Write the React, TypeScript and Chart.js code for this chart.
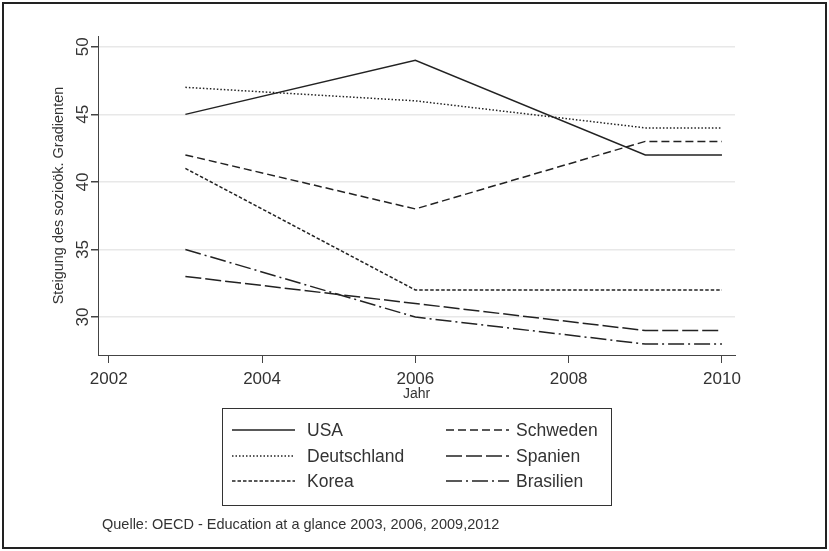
import React, { useEffect, useRef } from 'react';
import { Chart, registerables } from 'chart.js';

Chart.register(...registerables);

const years = [2003, 2006, 2009, 2010];
const seriesNames = ['USA', 'Deutschland', 'Korea', 'Schweden', 'Spanien', 'Brasilien'];
const usa = [45, 49, 42, 42];
const deutschland = [47, 46, 44, 44];
const korea = [41, 32, 32, 32];
const schweden = [42, 38, 43, 43];
const spanien = [33, 31, 29, 29];
const brasilien = [35, 30, 28, 28];
const xTicks = [2002, 2004, 2006, 2008, 2010];
const yTicks = [30, 35, 40, 45, 50];
const yTitle = 'Steigung des sozioök. Gradienten';
const xTitle = 'Jahr';
const sourceNote = 'Quelle: OECD - Education at a glance 2003, 2006, 2009,2012';

const seriesValues = [usa, deutschland, korea, schweden, spanien, brasilien];
const dashes: number[][] = [[], [1.5, 2], [3.5, 2], [8, 4], [16, 4], [16, 4, 2, 4]];

const FONT = '"Liberation Sans", Arial, Helvetica, sans-serif';
const INK = '#222';
const TEXT = '#333';

const decor = {
  id: 'decor',
  afterDraw(chart: any) {
    const { ctx, scales, chartArea } = chart;
    const ys = scales.y;
    ctx.save();
    // outer frame
    ctx.strokeStyle = '#222';
    ctx.lineWidth = 2;
    ctx.strokeRect(3, 3, 823, 545);

    // y tick labels (rotated)
    ctx.fillStyle = TEXT;
    ctx.font = `17px ${FONT}`;
    ctx.textAlign = 'center';
    ctx.textBaseline = 'middle';
    yTicks.forEach((v) => {
      const py = ys.getPixelForValue(v);
      ctx.save();
      ctx.translate(chartArea.left - 15, py);
      ctx.rotate(-Math.PI / 2);
      ctx.fillText(String(v), 0, 0);
      ctx.restore();
    });

    // y title
    ctx.font = `14.5px ${FONT}`;
    ctx.save();
    ctx.translate(59, (chartArea.top + chartArea.bottom) / 2);
    ctx.rotate(-Math.PI / 2);
    ctx.fillText(yTitle, 0, 0);
    ctx.restore();

    // x title
    ctx.font = `14px ${FONT}`;
    ctx.fillText(xTitle, (chartArea.left + chartArea.right) / 2, 394);

    // legend
    const boxL = 222, boxR = 611, boxT = 408, boxB = 505;
    ctx.strokeStyle = '#333';
    ctx.lineWidth = 1;
    ctx.strokeRect(boxL + 0.5, boxT + 0.5, boxR - boxL, boxB - boxT);
    const rowY = [430, 456, 481];
    const lineX = [232, 446];
    const textX = [307, 516];
    ctx.font = `17.5px ${FONT}`;
    ctx.textAlign = 'left';
    chart.data.datasets.forEach((d: any, i: number) => {
      const c = Math.floor(i / 3);
      const r = i % 3;
      const yy = rowY[r];
      ctx.strokeStyle = INK;
      ctx.lineWidth = 1.5;
      ctx.setLineDash(d.borderDash || []);
      ctx.beginPath();
      ctx.moveTo(lineX[c], yy);
      ctx.lineTo(lineX[c] + 63, yy);
      ctx.stroke();
      ctx.setLineDash([]);
      ctx.fillStyle = TEXT;
      ctx.fillText(d.label, textX[c], yy + 1);
    });

    // source note
    ctx.font = `14.5px ${FONT}`;
    ctx.fillText(sourceNote, 102, 525);
    ctx.restore();
  },
};

export default function App() {
  const ref = useRef<HTMLCanvasElement | null>(null);
  useEffect(() => {
    if (!ref.current) return;
    const chart = new Chart(ref.current, {
      type: 'line',
      data: {
        datasets: seriesNames.map((name, i) => ({
          label: name,
          data: years.map((yr, j) => ({ x: yr, y: seriesValues[i][j] })),
          borderColor: INK,
          borderWidth: 1.5,
          borderDash: dashes[i],
          pointRadius: 0,
          fill: false,
          tension: 0,
        })),
      },
      options: {
        responsive: false,
        animation: false,
        devicePixelRatio: 1,
        layout: { padding: { left: 78, top: 36, right: 94, bottom: 156 } },
        plugins: { legend: { display: false }, tooltip: { enabled: false } },
        scales: {
          x: {
            type: 'linear',
            min: 2001.86,
            max: 2010.17,
            afterBuildTicks: (s: any) => { s.ticks = xTicks.map((v) => ({ value: v })); },
            afterFit: (s: any) => { s.height = 40; },
            ticks: {
              font: { family: FONT, size: 17 },
              color: TEXT,
              padding: 6,
              maxRotation: 0,
              autoSkip: false,
              callback: (v: any) => String(v),
            },
            grid: { drawOnChartArea: false, drawTicks: true, tickLength: 8, tickColor: '#444', tickWidth: 1 },
            border: { display: true, color: '#444', width: 1 },
          },
          y: {
            type: 'linear',
            min: 27.19,
            max: 50.8,
            afterBuildTicks: (s: any) => { s.ticks = yTicks.map((v) => ({ value: v })); },
            afterFit: (s: any) => { s.width = 20; },
            ticks: { display: false },
            grid: { color: '#e8e8e8', lineWidth: 1.5, drawTicks: true, tickLength: 7, tickColor: '#444' },
            border: { display: true, color: '#444', width: 1 },
          },
        },
      },
      plugins: [decor],
    });
    return () => chart.destroy();
  }, []);
  return (
    <div style={{ position: 'fixed', left: 0, top: 0, width: 829, height: 551, background: '#fff' }}>
      <canvas ref={ref} width={829} height={551} />
    </div>
  );
}
